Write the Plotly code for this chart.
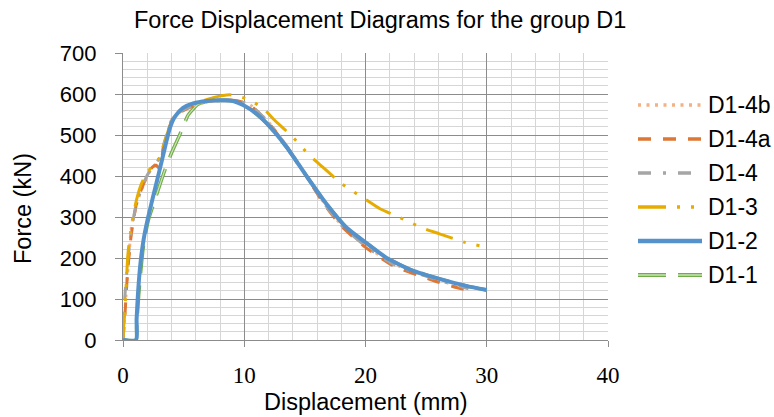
import plotly.graph_objects as go

# ---- data (displacement mm, force kN) ----
d1_2_x = [0, 1.07, 1.12, 1.25, 1.45, 1.70, 2.00, 2.40, 2.80, 3.20, 3.60, 3.90, 4.27, 4.95, 5.78, 6.88, 8.25, 9.08, 9.9, 11.0, 11.9, 13.5, 15.2, 16.8, 18.4, 20.0, 21.7, 23.9, 26.1, 28.3, 30.0]
d1_2_y = [0, 0, 50, 120, 190, 245, 290, 340, 388, 437, 487, 520, 544, 566, 577, 583, 585, 583, 573, 552, 527, 470, 397, 331, 275, 238, 201, 169, 149, 132, 122]

d1_1_x = [0, 1.07, 1.12, 1.30, 1.67, 2.08, 2.50, 3.00, 3.45, 4.00, 4.70, 5.09, 5.38, 6.19, 7.0, 8.5, 9.5, 10.0, 11.9, 13.5, 15.2, 16.8, 18.4, 20.0, 21.7, 23.9, 26.1, 28.3, 30.0]
d1_1_y = [0, 0, 30, 112, 226, 291, 330, 375, 414, 456, 502, 530, 549, 575, 582, 585, 581, 575, 527, 470, 397, 331, 275, 238, 201, 169, 149, 132, 122]

d1_4a_x = [0, 0.10, 0.18, 0.35, 0.62, 0.90, 1.17, 1.58, 1.99, 2.40, 2.75, 3.00, 3.20, 3.32, 3.73, 4.14, 4.69, 5.8, 7.2, 8.5, 9.5, 10.5, 12.0, 13.5, 15.0, 16.5, 18.0, 20.0, 22.3, 25.6, 27.5, 29.0]
d1_4a_y = [0, 40, 71, 153, 242, 299, 340, 372, 401, 421, 426, 418, 440, 470, 510, 543, 555, 571, 583, 586, 583, 572, 530, 472, 405, 335, 278, 226, 181, 145, 128, 118]

d1_4b_x = [0, 0.12, 0.25, 0.45, 0.69, 0.95, 1.25, 1.65, 2.05, 2.45, 2.80, 3.10, 3.35, 3.75, 4.15, 4.70, 5.8, 7.2, 8.5, 9.5, 10.5, 12.0, 13.5, 15.0, 16.5, 18.0, 20.0, 22.3, 25.6, 28.0]
d1_4b_y = [0, 50, 110, 190, 275, 310, 345, 375, 403, 422, 432, 440, 472, 512, 544, 556, 572, 583, 586, 583, 573, 531, 474, 407, 338, 281, 230, 186, 150, 128]

d1_4_x = [0, 0.08, 0.15, 0.30, 0.55, 0.85, 1.15, 1.55, 2.00, 2.40, 2.75, 3.05, 3.30, 3.70, 4.10, 4.65, 5.7, 7.1, 8.5, 9.5, 10.5, 12.0, 13.5, 15.0, 16.5, 18.0, 20.0, 22.3, 25.6, 28.5]
d1_4_y = [0, 45, 104, 160, 235, 295, 338, 370, 402, 420, 433, 445, 471, 511, 542, 556, 571, 583, 586, 583, 573, 531, 473, 406, 337, 280, 229, 185, 150, 125]

d1_3_x = [0, 0.05, 0.14, 0.41, 0.70, 1.10, 1.52, 2.00, 2.47, 3.03, 3.17, 3.44, 3.85, 4.27, 5.2, 6.33, 7.43, 8.8, 9.49, 10.45, 11.6, 12.4, 13.9, 14.7, 15.5, 16.5, 18.0, 19.0, 20.0, 21.2, 22.8, 23.9, 25.0, 26.1, 28.2, 29.4]
d1_3_y = [0, 30, 64, 210, 280, 340, 381, 408, 426, 445, 455, 483, 520, 544, 569, 581, 591, 598, 595, 585, 564, 539, 498, 472, 447, 421, 382, 362, 343, 320, 299, 284, 270, 259, 238, 230]

x_ticks = [0, 10, 20, 30, 40]
y_ticks = [0, 100, 200, 300, 400, 500, 600, 700]

# name, x, y, color, dash, width, legend position (0 = top), inner highlight colour
series = [
    ("D1-1", d1_1_x, d1_1_y, "#70AD47", "28px,12px", 3.5, 5, "#C9E3B6"),
    ("D1-4b", d1_4b_x, d1_4b_y, "#F4B183", "3px,5.5px", 3, 0, None),
    ("D1-4a", d1_4a_x, d1_4a_y, "#DE7634", "13px,12px", 3, 1, None),
    ("D1-4", d1_4_x, d1_4_y, "#A5A5A5", "13px,12px,3px,12px", 3, 2, None),
    ("D1-3", d1_3_x, d1_3_y, "#E6AC00", "28px,11px,3px,11px,3px,11px", 3, 3, None),
    ("D1-2", d1_2_x, d1_2_y, "#5592CC", "solid", 4, 4, None),
]

W, H = 774, 417
L, R, T, B = 123, 166, 53, 77
pw, ph = W - L - R, H - T - B


def px_x(p):
    return (p - L) / pw


def px_y(p):
    return (H - B - p) / ph


SANS = "Liberation Sans, Arial, sans-serif"
SERIF = "Liberation Serif, Times New Roman, serif"

fig = go.Figure()
shapes = []
annotations = []
for name, xs, ys, color, dash, width, pos, inner in series:
    fig.add_trace(go.Scatter(
        x=xs, y=ys, mode="lines", name=name, showlegend=False,
        line=dict(color=color, dash=dash, width=width, shape="spline", smoothing=0.6),
    ))
    yc = 105 + 34 * pos
    shapes.append(dict(type="line", xref="paper", yref="paper",
                       x0=px_x(638), x1=px_x(702), y0=px_y(yc), y1=px_y(yc),
                       line=dict(color=color, dash=dash, width=width + 0.5)))
    if inner:
        fig.add_trace(go.Scatter(
            x=xs, y=ys, mode="lines", name=name + " (inner)", showlegend=False,
            line=dict(color=inner, dash=dash, width=1.2, shape="spline", smoothing=0.6),
        ))
        shapes.append(dict(type="line", xref="paper", yref="paper",
                           x0=px_x(638), x1=px_x(702), y0=px_y(yc), y1=px_y(yc),
                           line=dict(color=inner, dash=dash, width=1.3)))
    annotations.append(dict(text=name, xref="paper", yref="paper",
                            x=px_x(706), y=px_y(yc), xanchor="left", yanchor="middle",
                            showarrow=False, font=dict(family=SANS, size=23, color="#000000")))

# keep the blue curve on top of everything
fig.data = tuple([t for t in fig.data if t.name != "D1-2"] + [t for t in fig.data if t.name == "D1-2"])

annotations += [
    dict(text="Force Displacement Diagrams for the group D1", xref="paper", yref="paper",
         x=px_x(380), y=px_y(20), xanchor="center", yanchor="middle", showarrow=False,
         font=dict(family=SANS, size=23.5, color="#000000")),
    dict(text="Displacement (mm)", xref="paper", yref="paper",
         x=px_x(366), y=px_y(402), xanchor="center", yanchor="middle", showarrow=False,
         font=dict(family=SANS, size=23.5, color="#000000")),
    dict(text="Force (kN)", xref="paper", yref="paper", textangle=-90,
         x=px_x(23), y=px_y(209), xanchor="center", yanchor="middle", showarrow=False,
         font=dict(family=SANS, size=23.5, color="#000000")),
]

fig.update_layout(
    width=W, height=H,
    margin=dict(l=L, r=R, t=T, b=B, pad=0),
    paper_bgcolor="white", plot_bgcolor="white",
    font=dict(family=SANS, size=22, color="#000000"),
    showlegend=False,
    xaxis=dict(
        range=[0, 40], tickvals=x_ticks, ticktext=[str(v) for v in x_ticks],
        showgrid=True, gridcolor="#8C8C8C", gridwidth=1.3,
        minor=dict(dtick=2, showgrid=True, gridcolor="#D6D6D6", gridwidth=1.3),
        showline=True, linecolor="#8C8C8C", linewidth=1.3,
        ticks="outside", ticklen=6, tickcolor="#8C8C8C", tickwidth=1.3,
        tickfont=dict(family=SERIF, size=23, color="#000000"),
        ticklabelstandoff=8, zeroline=False, fixedrange=True, automargin=False,
    ),
    yaxis=dict(
        range=[0, 700], tickvals=y_ticks, ticktext=[str(v) for v in y_ticks],
        showgrid=True, gridcolor="#8C8C8C", gridwidth=1.3,
        minor=dict(dtick=20, showgrid=True, gridcolor="#D6D6D6", gridwidth=1.3),
        showline=True, linecolor="#8C8C8C", linewidth=1.3,
        ticks="outside", ticklen=7, tickcolor="#8C8C8C", tickwidth=1.3,
        tickfont=dict(family=SANS, size=22, color="#000000"),
        ticklabelstandoff=14, zeroline=False, fixedrange=True, automargin=False,
    ),
    shapes=shapes,
    annotations=annotations,
)

fig.write_html(
    "out.html",
    config={"displayModeBar": False},
    post_script="document.body.style.margin='0px';document.body.style.padding='0px';",
)
